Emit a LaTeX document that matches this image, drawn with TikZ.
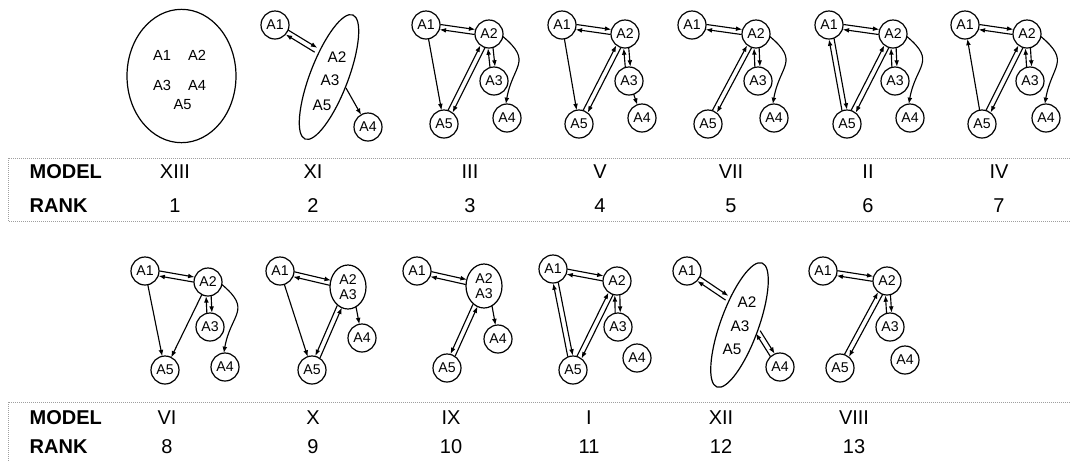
\documentclass[tikz,border=0pt]{standalone}
\usepackage{fontspec}
\setmainfont{Liberation Sans}
\usetikzlibrary{calc,arrows.meta,shapes.geometric}
\newcommand\pairsep{1.9pt}
\newcommand\circshort{10.6pt}
\newcommand\dpair[6]{%
  \draw[conn,#3,shorten <=#5,shorten >=#6] ($(#1)!\pairsep!90:(#2)$) -- ($(#2)!\pairsep!-90:(#1)$);
  \draw[conn,#4,shorten <=#5,shorten >=#6] ($(#1)!\pairsep!-90:(#2)$) -- ($(#2)!\pairsep!90:(#1)$);}
\newcommand\cpair[4]{\dpair{#1}{#2}{#3}{#4}{\circshort}{\circshort}}
\tikzset{
  conn/.style={line width=0.85pt},
  >={Latex[length=4.8pt,width=3.6pt]},
  cnode/.style={circle,draw,line width=0.9pt,minimum size=21pt,inner sep=0pt,outer sep=0pt,font=\fontsize{10.6}{12}\selectfont},
  enode/.style={ellipse,draw,line width=0.9pt,minimum width=27pt,minimum height=33pt,inner sep=0pt,outer sep=0pt,align=center,font=\fontsize{10.6}{11.5}\selectfont},
  bige/.style={ellipse,draw,line width=0.9pt,inner sep=0pt,outer sep=0pt},
  elabel/.style={font=\fontsize{11}{12}\selectfont},
  elabeltwo/.style={font=\fontsize{11.5}{12}\selectfont},
  hdr/.style={font=\fontsize{15}{18}\selectfont\bfseries,anchor=west},
  val/.style={font=\fontsize{15}{18}\selectfont},
  tbl/.style={draw=gray!75,line width=0.5pt,densely dotted}
}
\begin{document}
\begin{tikzpicture}[x=0.75pt,y=-0.75pt]
\useasboundingbox (0,0) rectangle (1070,462);
% ---------- tables ----------
\draw[tbl] (1070,158) -- (8,158) -- (8,221) -- (1070,221);
\draw[tbl] (1070,402) -- (8,402) -- (8,462);
\node[hdr] (m1) at (25,172) {MODEL};
\node[hdr] (r1) at (25,205.5) {RANK};
\node[hdr] (m2) at (25,418) {MODEL};
\node[hdr] (r2) at (25,447) {RANK};
\foreach \xx/\mm/\rr [count=\i] in {175/XIII/1,313/XI/2,470/III/3,600/V/4,731/VII/5,868/II/6,999/IV/7}{
  \node[val] (mv\i) at (\xx,172) {\mm};
  \node[val] (rv\i) at (\xx,205.5) {\rr};
}
\foreach \xx/\mm/\rr [count=\i] in {167/VI/8,313/X/9,451/IX/10,589/I/11,721/XII/12,854/VIII/13}{
  \node[val] (mw\i) at (\xx,418) {\mm};
  \node[val] (rw\i) at (\xx,447) {\rr};
}
% ---------- XIII ----------
\node[bige,minimum width=81.75pt,minimum height=100pt] (g13e) at (181.5,76) {};
\node[elabel] (g13a1) at (162,55) {A1};
\node[elabel] (g13a2) at (197,55) {A2};
\node[elabel] (g13a3) at (162,85) {A3};
\node[elabel] (g13a4) at (197,85) {A4};
\node[elabel] (g13a5) at (182.5,105) {A5};
% ---------- XI ----------
\node[cnode] (g11a1) at (275,25) {A1};
\node[bige,minimum width=28.5pt,minimum height=99.75pt,rotate=-21] (g11e) at (329,77) {};
\node[elabeltwo] (g11a2) at (337,57) {A2};
\node[elabeltwo] (g11a3) at (330,80) {A3};
\node[elabeltwo] (g11a5) at (322,105) {A5};
\node[cnode] (g11a4) at (368,127) {A4};
\coordinate (g11c1) at (316,50);
\coordinate (g11c2) at (346,88);
\dpair{g11a1}{g11c1}{->}{<-}{\circshort}{0pt}
\draw[conn,->] (g11c2) -- (g11a4);
% ---------- III ----------
\node[cnode] (g3a1) at (426,25) {A1};
\node[cnode] (g3a2) at (489,34) {A2};
\node[cnode] (g3a3) at (494,81) {A3};
\node[cnode] (g3a4) at (507,118) {A4};
\node[cnode] (g3a5) at (444,124) {A5};
\cpair{g3a1}{g3a2}{->}{<-}
\draw[conn,->] (g3a1) -- (g3a5);
\cpair{g3a5}{g3a2}{->}{<-}
\cpair{g3a3}{g3a2}{->}{<-}
\draw[conn,->] (g3a2.-10) to[out=-40,in=80,looseness=1.5] (g3a4.95);
% ---------- V ----------
\node[cnode] (g5a1) at (562,25) {A1};
\node[cnode] (g5a2) at (625,34) {A2};
\node[cnode] (g5a3) at (629,81) {A3};
\node[cnode] (g5a4) at (642,118) {A4};
\node[cnode] (g5a5) at (579,124) {A5};
\cpair{g5a1}{g5a2}{->}{<-}
\draw[conn,->] (g5a1) -- (g5a5);
\cpair{g5a5}{g5a2}{->}{<-}
\cpair{g5a3}{g5a2}{->}{<-}
\draw[conn,->] (g5a3) -- (g5a4);
% ---------- VII ----------
\node[cnode] (g7a1) at (692,25) {A1};
\node[cnode] (g7a2) at (756,34) {A2};
\node[cnode] (g7a3) at (758,81) {A3};
\node[cnode] (g7a4) at (774,118) {A4};
\node[cnode] (g7a5) at (708,124) {A5};
\cpair{g7a1}{g7a2}{->}{<-}
\cpair{g7a5}{g7a2}{->}{<-}
\cpair{g7a3}{g7a2}{->}{<-}
\draw[conn,->] (g7a2.-10) to[out=-40,in=80,looseness=1.5] (g7a4.95);
% ---------- II ----------
\node[cnode] (g2a1) at (829,25) {A1};
\node[cnode] (g2a2) at (893,34) {A2};
\node[cnode] (g2a3) at (895,81) {A3};
\node[cnode] (g2a4) at (910,118) {A4};
\node[cnode] (g2a5) at (847,124) {A5};
\cpair{g2a1}{g2a2}{->}{<-}
\cpair{g2a5}{g2a1}{->}{<-}
\cpair{g2a5}{g2a2}{->}{<-}
\cpair{g2a3}{g2a2}{->}{<-}
\draw[conn,->] (g2a2.-10) to[out=-40,in=80,looseness=1.5] (g2a4.95);
% ---------- IV ----------
\node[cnode] (g4a1) at (965,25) {A1};
\node[cnode] (g4a2) at (1027,34) {A2};
\node[cnode] (g4a3) at (1030,81) {A3};
\node[cnode] (g4a4) at (1046,118) {A4};
\node[cnode] (g4a5) at (982,124) {A5};
\cpair{g4a1}{g4a2}{->}{<-}
\draw[conn,->] (g4a5) -- (g4a1);
\cpair{g4a5}{g4a2}{->}{<-}
\cpair{g4a3}{g4a2}{->}{<-}
\draw[conn,->] (g4a2.-10) to[out=-40,in=80,looseness=1.5] (g4a4.95);
% ---------- VI ----------
\node[cnode] (g6a1) at (145,271) {A1};
\node[cnode] (g6a2) at (208,282) {A2};
\node[cnode] (g6a3) at (210,327) {A3};
\node[cnode] (g6a4) at (225,367) {A4};
\node[cnode] (g6a5) at (165,370) {A5};
\cpair{g6a1}{g6a2}{->}{<-}
\draw[conn,->] (g6a1) -- (g6a5);
\draw[conn,->] (g6a2) -- (g6a5);
\cpair{g6a3}{g6a2}{->}{<-}
\draw[conn,->] (g6a2.-10) to[out=-40,in=80,looseness=1.5] (g6a4.95);
% ---------- X ----------
\node[cnode] (g10a1) at (280,271) {A1};
\node[enode] (g10a23) at (348,287) {A2\\A3};
\node[cnode] (g10a4) at (362,338) {A4};
\node[cnode] (g10a5) at (312,370) {A5};
\dpair{g10a1}{g10a23}{->}{<-}{\circshort}{13.6pt}
\draw[conn,->] (g10a1) -- (g10a5);
\dpair{g10a5}{g10a23}{<-}{->}{\circshort}{16pt}
\draw[conn,->] (g10a23.-68) -- (g10a4);
% ---------- IX ----------
\node[cnode] (g9a1) at (417,271) {A1};
\node[enode] (g9a23) at (484,286) {A2\\A3};
\node[cnode] (g9a4) at (498,339) {A4};
\node[cnode] (g9a5) at (447,368) {A5};
\dpair{g9a1}{g9a23}{->}{<-}{\circshort}{13.6pt}
\dpair{g9a5}{g9a23}{<-}{->}{\circshort}{16pt}
\draw[conn,->] (g9a23.-68) -- (g9a4);
% ---------- I ----------
\node[cnode] (g1a1) at (553,269) {A1};
\node[cnode] (g1a2) at (617,281) {A2};
\node[cnode] (g1a3) at (618,327) {A3};
\node[cnode] (g1a4) at (637,358) {A4};
\node[cnode] (g1a5) at (573,370) {A5};
\cpair{g1a1}{g1a2}{->}{<-}
\cpair{g1a5}{g1a1}{->}{<-}
\cpair{g1a5}{g1a2}{->}{<-}
\cpair{g1a3}{g1a2}{->}{<-}
% ---------- XII ----------
\node[cnode] (g12a1) at (687,271) {A1};
\node[bige,minimum width=28.5pt,minimum height=99pt,rotate=-20] (g12e) at (739.5,325) {};
\node[elabeltwo] (g12a2) at (747,302) {A2};
\node[elabeltwo] (g12a3) at (740,326) {A3};
\node[elabeltwo] (g12a5) at (732,349) {A5};
\node[cnode] (g12a4) at (780,367) {A4};
\coordinate (g12c1) at (727,298);
\coordinate (g12c2) at (758,332);
\dpair{g12a1}{g12c1}{->}{<-}{\circshort}{0pt}
\dpair{g12a4}{g12c2}{->}{<-}{\circshort}{0pt}
% ---------- VIII ----------
\node[cnode] (g8a1) at (823,271) {A1};
\node[cnode] (g8a2) at (887,281) {A2};
\node[cnode] (g8a3) at (890,327) {A3};
\node[cnode] (g8a4) at (905,360) {A4};
\node[cnode] (g8a5) at (840,368) {A5};
\cpair{g8a1}{g8a2}{->}{<-}
\cpair{g8a5}{g8a2}{->}{<-}
\cpair{g8a3}{g8a2}{->}{<-}
\end{tikzpicture}
\end{document}
